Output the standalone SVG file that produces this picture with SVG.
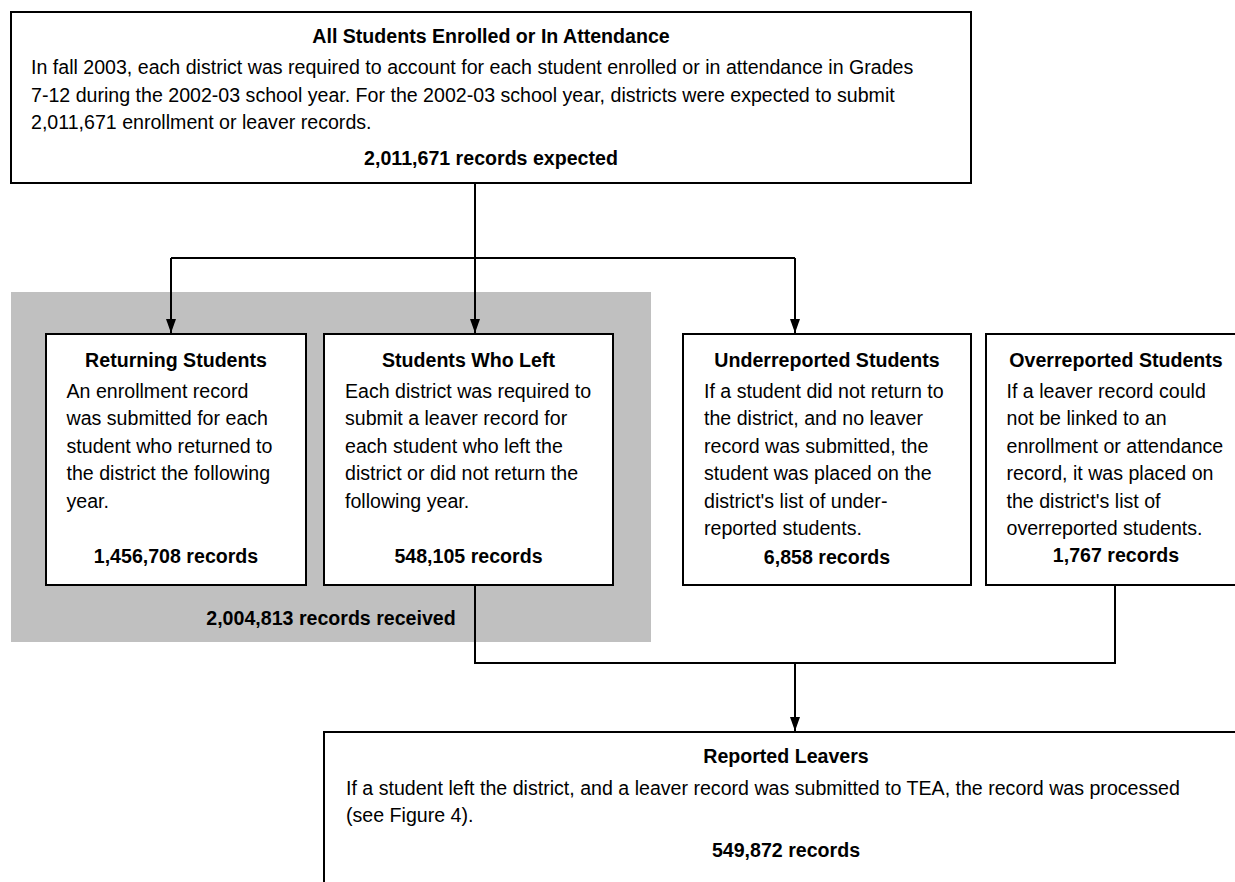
<svg xmlns="http://www.w3.org/2000/svg" width="1235" height="882" viewBox="0 0 1235 882">
<style>
  text { font-family: "Liberation Sans", Arial, sans-serif; font-size: 19.6px; fill: #000; }
  .t { font-weight: bold; text-anchor: middle; }
  .box { fill: #fff; stroke: #000; stroke-width: 2; }
  .con { fill: none; stroke: #000; stroke-width: 2; }
</style>
<defs>
  <marker id="arr" markerUnits="userSpaceOnUse" markerWidth="14" markerHeight="10" refX="14" refY="5" orient="auto">
    <path d="M0,0 L14,5 L0,10 z" fill="#000"/>
  </marker>
</defs>
<rect id="received-area" x="11" y="292" width="640" height="350" fill="#c0c0c0"/>
<text class="t" x="331" y="625">2,004,813 records received</text>

<g id="all-students">
  <rect class="box" x="11" y="12" width="960" height="171"/>
  <text class="t" x="491" y="43">All Students Enrolled or In Attendance</text>
  <text x="31" y="74">In fall 2003, each district was required to account for each student enrolled or in attendance in Grades</text>
  <text x="31" y="101.5">7-12 during the 2002-03 school year. For the 2002-03 school year, districts were expected to submit</text>
  <text x="31" y="129">2,011,671 enrollment or leaver records.</text>
  <text class="t" x="491" y="165">2,011,671 records expected</text>
</g>

<g id="returning">
  <rect class="box" x="46" y="334" width="260" height="251"/>
  <text class="t" x="176" y="367">Returning Students</text>
  <text x="66.5" y="397.5">An enrollment record</text>
  <text x="66.5" y="425">was submitted for each</text>
  <text x="66.5" y="452.5">student who returned to</text>
  <text x="66.5" y="480">the district the following</text>
  <text x="66.5" y="507.5">year.</text>
  <text class="t" x="176" y="563">1,456,708 records</text>
</g>

<g id="left">
  <rect class="box" x="324" y="334" width="289" height="251"/>
  <text class="t" x="468.5" y="367">Students Who Left</text>
  <text x="345" y="397.5">Each district was required to</text>
  <text x="345" y="425">submit a leaver record for</text>
  <text x="345" y="452.5">each student who left the</text>
  <text x="345" y="480">district or did not return the</text>
  <text x="345" y="507.5">following year.</text>
  <text class="t" x="468.5" y="563">548,105 records</text>
</g>

<g id="underreported">
  <rect class="box" x="683" y="334" width="288" height="251"/>
  <text class="t" x="827" y="367">Underreported Students</text>
  <text x="704" y="397.5">If a student did not return to</text>
  <text x="704" y="425">the district, and no leaver</text>
  <text x="704" y="452.5">record was submitted, the</text>
  <text x="704" y="480">student was placed on the</text>
  <text x="704" y="507.5">district's list of under-</text>
  <text x="704" y="535">reported students.</text>
  <text class="t" x="827" y="564">6,858 records</text>
</g>

<g id="overreported">
  <rect class="box" x="986" y="334" width="260" height="251"/>
  <text class="t" x="1116" y="367">Overreported Students</text>
  <text x="1006.5" y="397.5">If a leaver record could</text>
  <text x="1006.5" y="425">not be linked to an</text>
  <text x="1006.5" y="452.5">enrollment or attendance</text>
  <text x="1006.5" y="480">record, it was placed on</text>
  <text x="1006.5" y="507.5">the district's list of</text>
  <text x="1006.5" y="535">overreported students.</text>
  <text class="t" x="1116" y="562">1,767 records</text>
</g>

<g id="reported-leavers">
  <rect class="box" x="324" y="732" width="930" height="170"/>
  <text class="t" x="786" y="763">Reported Leavers</text>
  <text x="346" y="795">If a student left the district, and a leaver record was submitted to TEA, the record was processed</text>
  <text x="346" y="822">(see Figure 4).</text>
  <text class="t" x="786" y="857">549,872 records</text>
</g>

<g id="connectors">
  <path class="con" d="M475,183 V333" marker-end="url(#arr)"/>
  <path class="con" d="M171,258 H795"/>
  <path class="con" d="M171,258 V333" marker-end="url(#arr)"/>
  <path class="con" d="M795,258 V333" marker-end="url(#arr)"/>
  <path class="con" d="M475,585 V663 H1115 V585"/>
  <path class="con" d="M795,663 V731" marker-end="url(#arr)"/>
</g>
</svg>
